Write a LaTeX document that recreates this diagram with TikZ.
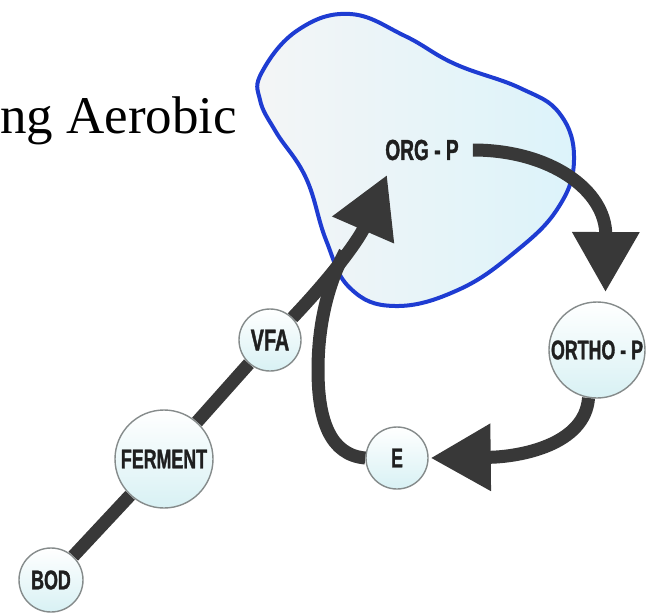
\documentclass[tikz,border=0pt]{standalone}
\usepackage{fontspec}
\setmainfont{Liberation Serif}
\newfontfamily\labelfont[FakeStretch=0.66, BoldFeatures={FakeBold=1.2}]{Liberation Sans}
\usetikzlibrary{arrows.meta}

\definecolor{inkgray}{HTML}{383838}
\definecolor{blobblue}{HTML}{1E3CD2}
\definecolor{paleblue}{HTML}{DCF3FA}
\definecolor{palegray}{HTML}{F4F5F6}
\definecolor{ringgray}{HTML}{858B8B}
\definecolor{bubble}{HTML}{D8F1F4}

\pgfdeclarelayer{back}
\pgfdeclarelayer{links}
\pgfsetlayers{back,links,main}

\begin{document}
\begin{tikzpicture}[x=1pt,y=-1pt,
  lbl/.style={font=\labelfont\bfseries\fontsize{#1}{#1}\selectfont, text=black!88},
  lbl/.default=27,
  stage/.style={circle, draw=ringgray, line width=1.4pt, top color=white,
    bottom color=bubble, inner sep=0pt, lbl},
  flow/.style={draw=inkgray, line width=13pt},
  head/.style={-{Triangle[length=60pt,width=64pt]}}
]
\clip (0,0) rectangle (646,616);

% heading fragment
\node[anchor=base west, inner sep=0pt, font=\fontsize{53}{53}\selectfont] (title) at (0,133) {ng Aerobic};

% cell body
\begin{pgfonlayer}{back}
\shade[left color=palegray, right color=paleblue, draw=blobblue, line width=4pt]
  plot[smooth cycle, tension=0.7] coordinates {
    (262,72) (298,30) (350,14) (405,36) (455,64) (520,88) (560,114)
    (574,160) (558,208) (515,252) (458,290) (395,306) (350,288)
    (326,240) (306,178) (276,132) (260,100)};
\end{pgfonlayer}

% stages
\node[lbl=29, inner sep=2pt] (orgp) at (422,150) {ORG - P};
\node[stage, minimum size=64pt] (bod) at (51,580) {BOD};
\node[stage, minimum size=98pt] (ferment) at (164,459) {FERMENT};
\node[stage, minimum size=62pt, lbl=30] (vfa) at (270,340) {VFA};
\node[stage, minimum size=62pt] (e) at (397,458) {E};
\node[stage, minimum size=96pt] (orthop) at (597,350) {ORTHO - P};

\coordinate (tipA) at (387,175);
\coordinate (join) at (345,252);

% connectors
\begin{pgfonlayer}{links}
\draw[flow] (bod) -- (ferment);
\draw[flow] (ferment) -- (vfa);
\draw[flow, head] (vfa) to[bend right=10] (tipA);
\draw[flow] (e.west) .. controls (330,455) and (318,420) .. (318,370)
  .. controls (318,320) and (330,280) .. (join);
\draw[flow, head, shorten <=12pt, shorten >=10pt] (orgp.east)
  .. controls (550,150) and (606,190) .. (orthop.80);
\draw[flow, head, shorten >=2pt] (orthop.260)
  .. controls (585,445) and (520,457) .. (e.east);
\end{pgfonlayer}
\end{tikzpicture}
\end{document}
